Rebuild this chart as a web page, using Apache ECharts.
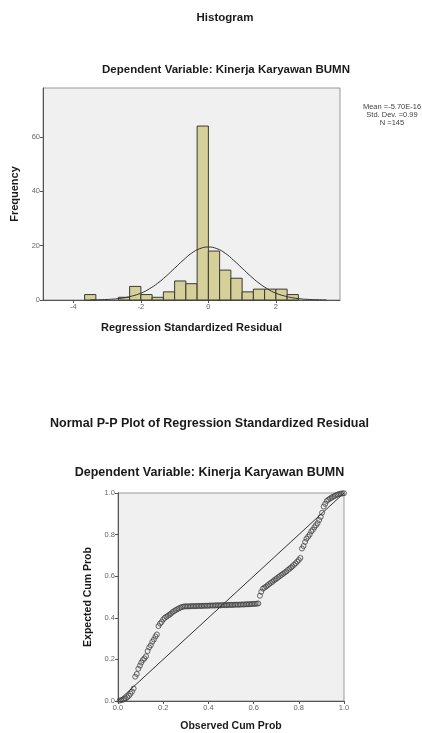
<!DOCTYPE html>
<html lang="id">
<head>
    <meta charset="UTF-8">
    <title>Histogram dan Normal P-P Plot</title>
    <script src="https://cdn.jsdelivr.net/npm/echarts/dist/echarts.min.js"></script>
    <style>
        body {
            margin: 0;
            background: #fff;
        }

        #chart {
            width: 422px;
            height: 733px;
        }
    </style>
</head>
<body>

    <div id="chart"></div>

    <script>
        // histogram bins (width 1/3) and counts
        var binStart = [-3.667, -2.667, -2.333, -2.0, -1.667, -1.333, -1.0, -0.667, -0.333, 0.0, 0.333, 0.667, 1.0, 1.333, 1.667, 2.0, 2.333];
        var binCount = [2, 1, 5, 2, 1, 3, 7, 6, 64, 18, 11, 8, 3, 4, 4, 4, 2];
        var binWidth = 0.3333;

        // normal curve
        var curveX = [-3.5, -3.25, -3, -2.75, -2.5, -2.25, -2, -1.75, -1.5, -1.25, -1, -0.75, -0.5, -0.25, 0,
                      0.25, 0.5, 0.75, 1, 1.25, 1.5, 1.75, 2, 2.25, 2.5, 2.75, 3, 3.25, 3.5];
        var curveY = [0.02, 0.09, 0.2, 0.4, 0.8, 1.5, 2.5, 4.1, 6.2, 8.8, 11.7, 14.6, 17.2, 18.9, 19.5,
                      18.9, 17.2, 14.6, 11.7, 8.8, 6.2, 4.1, 2.5, 1.5, 0.8, 0.4, 0.2, 0.09, 0.02];

        var histXTicks = [-4, -2, 0, 2];
        var histYTicks = [0, 20, 40, 60];
        var statsLines = ['Mean =-5.70E-16', 'Std. Dev. =0.99', 'N =145'];

        // P-P plot points
        var ppObserved = [
            0.007, 0.014, 0.021, 0.028, 0.034, 0.041, 0.048, 0.055, 0.062, 0.069,
            0.076, 0.083, 0.090, 0.097, 0.103, 0.110, 0.117, 0.124, 0.131, 0.138,
            0.145, 0.152, 0.159, 0.166, 0.172, 0.179, 0.186, 0.193, 0.200, 0.207,
            0.214, 0.221, 0.228, 0.234, 0.241, 0.248, 0.255, 0.262, 0.269, 0.276,
            0.283, 0.290, 0.297, 0.303, 0.310, 0.317, 0.324, 0.331, 0.338, 0.345,
            0.352, 0.359, 0.366, 0.372, 0.379, 0.386, 0.393, 0.400, 0.407, 0.414,
            0.421, 0.428, 0.434, 0.441, 0.448, 0.455, 0.462, 0.469, 0.476, 0.483,
            0.490, 0.497, 0.503, 0.510, 0.517, 0.524, 0.531, 0.538, 0.545, 0.552,
            0.559, 0.566, 0.572, 0.579, 0.586, 0.593, 0.600, 0.607, 0.614, 0.621,
            0.628, 0.634, 0.641, 0.648, 0.655, 0.662, 0.669, 0.676, 0.683, 0.690,
            0.697, 0.703, 0.710, 0.717, 0.724, 0.731, 0.738, 0.745, 0.752, 0.759,
            0.766, 0.772, 0.779, 0.786, 0.793, 0.800, 0.807, 0.814, 0.821, 0.828,
            0.834, 0.841, 0.848, 0.855, 0.862, 0.869, 0.876, 0.883, 0.890, 0.897,
            0.903, 0.910, 0.917, 0.924, 0.931, 0.938, 0.945, 0.952, 0.959, 0.966,
            0.972, 0.979, 0.986, 0.993, 1.000
        ];
        var ppExpected = [
            0.002, 0.004, 0.006, 0.009, 0.013, 0.018, 0.025, 0.035, 0.045, 0.060,
            0.117, 0.130, 0.155, 0.170, 0.185, 0.197, 0.205, 0.215, 0.240, 0.258,
            0.268, 0.285, 0.296, 0.310, 0.320, 0.360, 0.372, 0.380, 0.392, 0.400,
            0.405, 0.410, 0.415, 0.420, 0.427, 0.432, 0.437, 0.441, 0.445, 0.449,
            0.452, 0.454, 0.455, 0.455, 0.455, 0.455, 0.456, 0.456, 0.456, 0.456,
            0.457, 0.457, 0.457, 0.457, 0.458, 0.458, 0.458, 0.458, 0.459, 0.459,
            0.459, 0.459, 0.460, 0.460, 0.460, 0.460, 0.461, 0.461, 0.461, 0.461,
            0.462, 0.462, 0.462, 0.462, 0.463, 0.463, 0.463, 0.463, 0.464, 0.464,
            0.464, 0.465, 0.465, 0.465, 0.466, 0.466, 0.467, 0.467, 0.468, 0.469,
            0.506, 0.525, 0.540, 0.545, 0.550, 0.556, 0.562, 0.568, 0.573, 0.580,
            0.585, 0.590, 0.596, 0.601, 0.607, 0.612, 0.618, 0.623, 0.630, 0.636,
            0.642, 0.648, 0.655, 0.662, 0.670, 0.678, 0.688, 0.733, 0.745, 0.765,
            0.780, 0.790, 0.800, 0.815, 0.823, 0.835, 0.845, 0.855, 0.870, 0.885,
            0.905, 0.935, 0.948, 0.962, 0.968, 0.973, 0.978, 0.982, 0.986, 0.990,
            0.993, 0.995, 0.997, 0.998, 0.999
        ];
        var ppTicks = [0, 0.2, 0.4, 0.6, 0.8, 1.0];

        document.addEventListener("DOMContentLoaded", function() {
            var myChart = echarts.init(document.getElementById("chart"));
            var font = '"Liberation Sans", Arial, sans-serif';

            var histData = binStart.map(function(s, i) {
                return [s, s + binWidth, binCount[i]];
            });
            var curveData = curveX.map(function(x, i) { return [x, curveY[i]]; });
            var ppData = ppObserved.map(function(x, i) { return [x, ppExpected[i]]; });

            function axisCommon() {
                return {
                    axisLine: { show: true, onZero: false, lineStyle: { color: '#555', width: 1 } },
                    axisTick: { show: true, length: 3, lineStyle: { color: '#555' } },
                    axisLabel: { color: '#666', fontSize: 7.5, fontFamily: font, margin: 3 },
                    splitLine: { show: false },
                    nameLocation: 'middle',
                    nameTextStyle: { color: '#1a1a1a', fontWeight: 'bold', fontSize: 11, fontFamily: font }
                };
            }

            var hx = axisCommon();
            hx.gridIndex = 0; hx.type = 'value'; hx.min = -4.9; hx.max = 3.9;
            hx.name = 'Regression Standardized Residual'; hx.nameGap = 22;
            hx.axisTick.customValues = histXTicks;
            hx.axisLabel.customValues = histXTicks;

            var hy = axisCommon();
            hy.gridIndex = 0; hy.type = 'value'; hy.min = 0; hy.max = 78;
            hy.name = 'Frequency'; hy.nameGap = 16;
            hy.axisTick.customValues = histYTicks;
            hy.axisLabel.customValues = histYTicks;

            var px = axisCommon();
            px.gridIndex = 1; px.type = 'value'; px.min = 0; px.max = 1;
            px.name = 'Observed Cum Prob'; px.nameGap = 20;
            px.nameTextStyle.fontSize = 10.5;
            px.axisTick.customValues = ppTicks;
            px.axisLabel.customValues = ppTicks;
            px.axisLabel.formatter = function(v) { return v.toFixed(1); };

            var py = axisCommon();
            py.gridIndex = 1; py.type = 'value'; py.min = 0; py.max = 1;
            py.name = 'Expected Cum Prob'; py.nameGap = 22;
            py.nameTextStyle.fontSize = 10.5;
            py.axisTick.customValues = ppTicks;
            py.axisLabel.customValues = ppTicks;
            py.axisLabel.formatter = function(v) { return v.toFixed(1); };

            function title(text, x, y, size) {
                return {
                    type: 'text', x: x, y: y,
                    style: {
                        text: text, fill: '#1a1a1a', font: 'bold ' + size + 'px ' + font,
                        textAlign: 'center', textVerticalAlign: 'middle'
                    }
                };
            }

            var graphics = [
                title('Histogram', 225, 18, 11.5),
                title('Dependent Variable: Kinerja Karyawan BUMN', 226, 70, 11.5),
                title('Normal P-P Plot of Regression Standardized Residual', 209.5, 424, 12.5),
                title('Dependent Variable: Kinerja Karyawan BUMN', 209.5, 473, 12.5)
            ];
            statsLines.forEach(function(t, i) {
                graphics.push({
                    type: 'text', x: 392, y: 106.5 + i * 8,
                    style: {
                        text: t, fill: '#444', font: '7.5px ' + font,
                        textAlign: 'center', textVerticalAlign: 'middle'
                    }
                });
            });

            myChart.setOption({
                animation: false,
                grid: [
                    { left: 43, top: 88, right: 82, bottom: 433, show: true,
                      backgroundColor: '#f0f0f0', borderColor: '#999', borderWidth: 1 },
                    { left: 118, top: 493, right: 78, bottom: 32, show: true,
                      backgroundColor: '#f0f0f0', borderColor: '#999', borderWidth: 1 }
                ],
                xAxis: [hx, px],
                yAxis: [hy, py],
                graphic: graphics,
                series: [
                    {
                        type: 'custom',
                        xAxisIndex: 0, yAxisIndex: 0,
                        encode: { x: [0, 1], y: 2 },
                        data: histData,
                        renderItem: function(params, api) {
                            var p0 = api.coord([api.value(0), api.value(2)]);
                            var p1 = api.coord([api.value(1), 0]);
                            return {
                                type: 'rect',
                                shape: { x: p0[0], y: p0[1], width: p1[0] - p0[0], height: p1[1] - p0[1] },
                                style: { fill: '#d5cf99', stroke: '#3a3a30', lineWidth: 1 }
                            };
                        }
                    },
                    {
                        type: 'line',
                        xAxisIndex: 0, yAxisIndex: 0,
                        data: curveData,
                        smooth: true,
                        symbol: 'none',
                        lineStyle: { color: '#333', width: 1 }
                    },
                    {
                        type: 'line',
                        xAxisIndex: 1, yAxisIndex: 1,
                        data: [[0, 0], [1, 1]],
                        symbol: 'none',
                        lineStyle: { color: '#333', width: 1 }
                    },
                    {
                        type: 'scatter',
                        xAxisIndex: 1, yAxisIndex: 1,
                        data: ppData,
                        symbol: 'circle',
                        symbolSize: 5,
                        itemStyle: { color: 'rgba(0,0,0,0)', borderColor: '#444', borderWidth: 1 }
                    }
                ]
            });
        });
    </script>

</body>
</html>
